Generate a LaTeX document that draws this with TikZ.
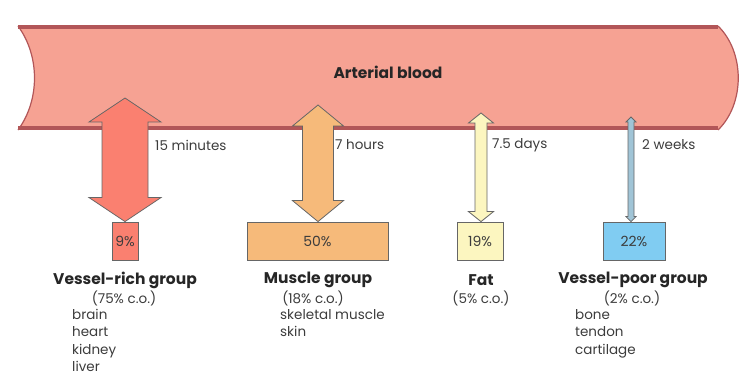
\documentclass[tikz,border=0pt]{standalone}
\usepackage{fontspec}
\setmainfont{Poppins}
\usetikzlibrary{calc}

\definecolor{bloodfill}{RGB}{246,162,147}
\definecolor{bloodedge}{RGB}{178,86,88}
\definecolor{richfill}{RGB}{250,128,112}
\definecolor{musclefill}{RGB}{246,186,122}
\definecolor{fatfill}{RGB}{252,246,192}
\definecolor{poorarrow}{RGB}{160,196,214}
\definecolor{poorfill}{RGB}{128,204,242}
\definecolor{txt}{RGB}{60,60,60}

\tikzset{
  tissuebox/.style={draw=black!60, line width=0.8pt, minimum height=38pt, inner sep=0pt, font=\fontsize{14}{16}\selectfont, text=txt},
  flow/.style={draw=black!60, line width=0.8pt, line join=miter},
  timelabel/.style={anchor=west, inner sep=0pt, font=\fontsize{13.5}{16}\selectfont, text=txt},
  grouptitle/.style={font=\bfseries\fontsize{15.5}{18}\selectfont, text=black!85},
  groupco/.style={font=\fontsize{13.5}{16}\selectfont, text=txt},
  organlist/.style={anchor=north west, align=left, inner sep=0pt, font=\fontsize{13.5}{17.5}\selectfont, text=txt}
}

% double headed fat arrow: style, top, bottom, half shaft, half head, head length
\newcommand{\flowarrow}[6]{%
  \draw[#1] (#2) -- ($(#2)+(#5,#6)$) -- ($(#2)+(#4,#6)$) -- ($(#3)+(#4,-#6)$)
    -- ($(#3)+(#5,-#6)$) -- (#3) -- ($(#3)+(-#5,-#6)$) -- ($(#3)+(-#4,-#6)$)
    -- ($(#2)+(-#4,#6)$) -- ($(#2)+(-#5,#6)$) -- cycle;}

\begin{document}
\begin{tikzpicture}[x=1pt,y=-1pt]
  \useasboundingbox (0,0) rectangle (756,382);

  % Vessel
  \fill[bloodfill] (18,26) -- (718,26) .. controls (745,52) and (745,104) .. (718,130)
    -- (18,130) .. controls (40,100) and (40,56) .. (18,26);
  \draw[bloodedge, line width=1.2pt] (718,26) .. controls (745,52) and (745,104) .. (718,130);
  \draw[bloodedge, line width=1.2pt] (18,130) .. controls (40,100) and (40,56) .. (18,26);
  \draw[bloodedge, line width=4pt] (18,27.5) -- (718,27.5);
  \draw[bloodedge, line width=4pt] (18,128.5) -- (718,128.5);
  \node[font=\bfseries\fontsize{15.5}{18}\selectfont, text=black!85] (blood) at (388,72) {Arterial blood};

  % Tissue boxes
  \node[tissuebox, fill=richfill, minimum width=26pt] (richbox) at (125,241) {9\%};
  \node[tissuebox, fill=musclefill, minimum width=141pt] (musclebox) at (317.5,241) {50\%};
  \node[tissuebox, fill=fatfill, minimum width=46pt] (fatbox) at (480,241) {19\%};
  \node[tissuebox, fill=poorfill, minimum width=62pt] (poorbox) at (634,241) {22\%};

  % Arrow tips in the vessel
  \coordinate (richtop) at (125,98);
  \coordinate (muscletop) at (318,105);
  \coordinate (fattop) at (481,113);
  \coordinate (poortop) at (631,117);

  \flowarrow{flow, fill=richfill}{richtop}{richbox.north -| richtop}{23}{36}{24}
  \flowarrow{flow, fill=musclefill}{muscletop}{musclebox.north -| muscletop}{15.5}{25.5}{21}
  \flowarrow{flow, fill=fatfill}{fattop}{fatbox.north -| fattop}{6}{12.5}{10}
  \flowarrow{flow, fill=poorarrow}{poortop}{poorbox.north -| poortop}{3}{5}{5}

  % Times
  \node[timelabel] (richtime) at (155,145) {15 minutes};
  \node[timelabel] (muscletime) at (335,145) {7 hours};
  \node[timelabel] (fattime) at (492,145) {7.5 days};
  \node[timelabel] (poortime) at (642,145) {2 weeks};

  % Groups
  \node[grouptitle] (richname) at (125,280) {Vessel-rich group};
  \node[groupco] (richco) at (124,298) {(75\% c.o.)};
  \node[organlist] (richlist) at (72,309) {brain\\heart\\kidney\\liver};

  \node[grouptitle] (musclename) at (318,280) {Muscle group};
  \node[groupco] (muscleco) at (313,298) {(18\% c.o.)};
  \node[organlist] (musclelist) at (280,309) {skeletal muscle\\skin};

  \node[grouptitle] (fatname) at (481,280) {Fat};
  \node[groupco] (fatco) at (481,298) {(5\% c.o.)};

  \node[grouptitle] (poorname) at (633,280) {Vessel-poor group};
  \node[groupco] (poorco) at (632,298) {(2\% c.o.)};
  \node[organlist] (poorlist) at (575,309) {bone\\tendon\\cartilage};
\end{tikzpicture}
\end{document}
